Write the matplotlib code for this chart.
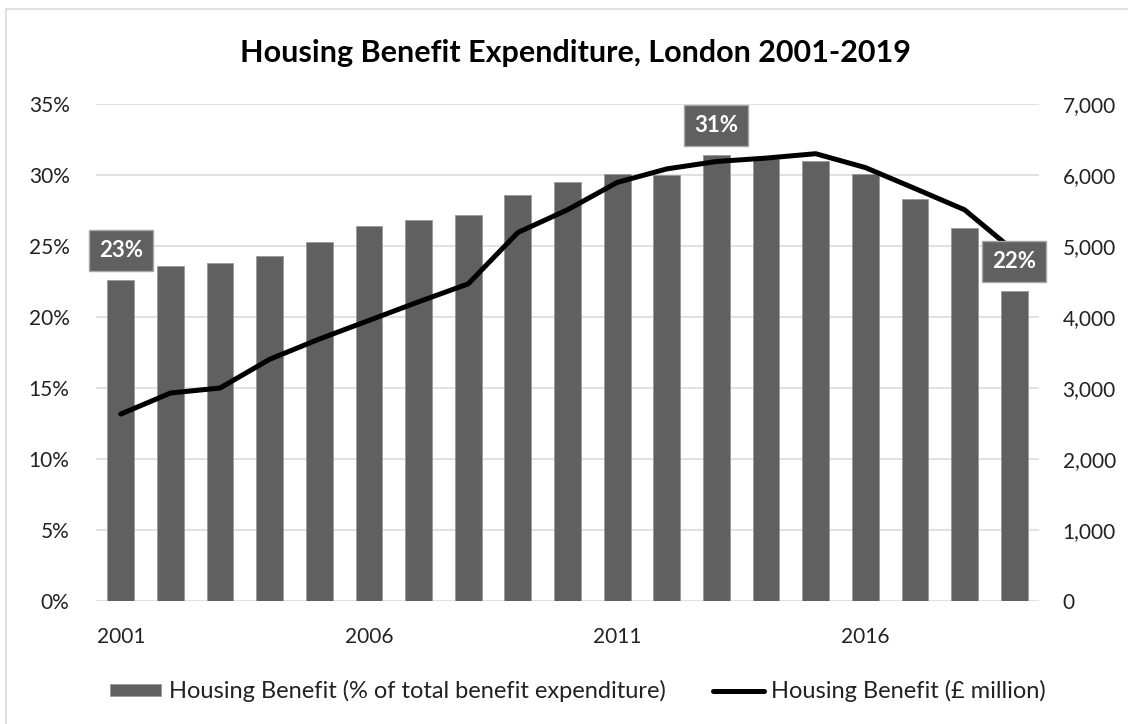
import matplotlib
matplotlib.use("Agg")
import matplotlib.pyplot as plt
from matplotlib.patches import Rectangle
from matplotlib.ticker import FuncFormatter

plt.rcParams['font.family'] = ['Lato', 'DejaVu Sans']

years = list(range(2001, 2020))
# housing benefit as % of all benefit spending in London
hb_share = [22.6, 23.6, 23.8, 24.3, 25.3, 26.4, 26.8, 27.2, 28.6, 29.5,
            30.1, 30.0, 31.4, 31.1, 31.0, 30.1, 28.3, 26.3, 21.8]
# housing benefit spend, £ million
hb_spend = [2633, 2929, 3000, 3405, 3690, 3952, 4214, 4467, 5190, 5510,
            5895, 6086, 6190, 6238, 6300, 6105, 5810, 5510, 4930]
labelled_years = [2001, 2013, 2019]
tick_years = [2001, 2006, 2011, 2016]

W, H = 1128, 724
bar_grey = '#606060'
grid_grey = '#d9d9d9'

fig = plt.figure(figsize=(W / 100, H / 100), dpi=100)
ax = fig.add_axes([96 / W, 1 - 601 / H, (1039 - 96) / W, (601 - 104) / H])
ax2 = ax.twinx()

bars = ax.bar(years, hb_share, width=0.54, color=bar_grey,
              edgecolor='#9a9a9a', linewidth=0.6, zorder=2,
              label='Housing Benefit (% of total benefit expenditure)')
line, = ax2.plot(years, hb_spend, color='black', lw=3.6,
                 solid_capstyle='round', solid_joinstyle='round',
                 label='Housing Benefit (£ million)')

ax.set_xlim(2000.5, 2019.5)
ax.set_ylim(0, 35)
ax2.set_ylim(0, 7000)
ax.set_yticks(range(0, 36, 5))
ax2.set_yticks(range(0, 7001, 1000))
ax.set_xticks(tick_years)
ax.yaxis.set_major_formatter(FuncFormatter(lambda v, p: f'{v:.0f}%'))
ax2.yaxis.set_major_formatter(FuncFormatter(lambda v, p: f'{v:,.0f}'))

ax.grid(axis='y', color=grid_grey, lw=1.1, zorder=0)
ax.set_axisbelow(True)
for a in (ax, ax2):
    for s in a.spines.values():
        s.set_visible(False)
ax.tick_params(axis='x', length=0, pad=19, labelsize=15, labelcolor='#222222')
ax.tick_params(axis='y', length=0, pad=19, labelsize=15, labelcolor='#222222')
ax2.tick_params(axis='y', length=0, pad=17, labelsize=15, labelcolor='#222222')

# value callouts on first, peak and last year
for yr in labelled_years:
    v = hb_share[years.index(yr)]
    ax2.annotate(f'{v:.0f}%', xy=(yr, v), xycoords=ax.transData,
                 xytext=(0, 14), textcoords='offset points',
                 ha='center', va='bottom', color='white', fontsize=16,
                 fontweight='bold', zorder=5,
                 bbox=dict(boxstyle='square,pad=0.45', fc=bar_grey,
                           ec='#a6a6a6', lw=1))

fig.text(576 / W, 1 - 62 / H, 'Housing Benefit Expenditure, London 2001-2019',
         ha='center', va='baseline', fontsize=22, fontweight='bold')

fig.legend([bars, line], [bars.get_label(), line.get_label()],
           loc='center', bbox_to_anchor=(578 / W, 1 - 691 / H), ncol=2,
           frameon=False, fontsize=17, handlelength=2.16, handleheight=0.4,
           handletextpad=0.3, columnspacing=2.0, labelcolor='#222222')

# light frame around the chart
fig.patches.append(Rectangle((6 / W, -0.1), 1.2, 1.1 - 9 / H,
                             transform=fig.transFigure, fill=False,
                             ec=grid_grey, lw=1.2))

fig.savefig('out.png', dpi=100)
